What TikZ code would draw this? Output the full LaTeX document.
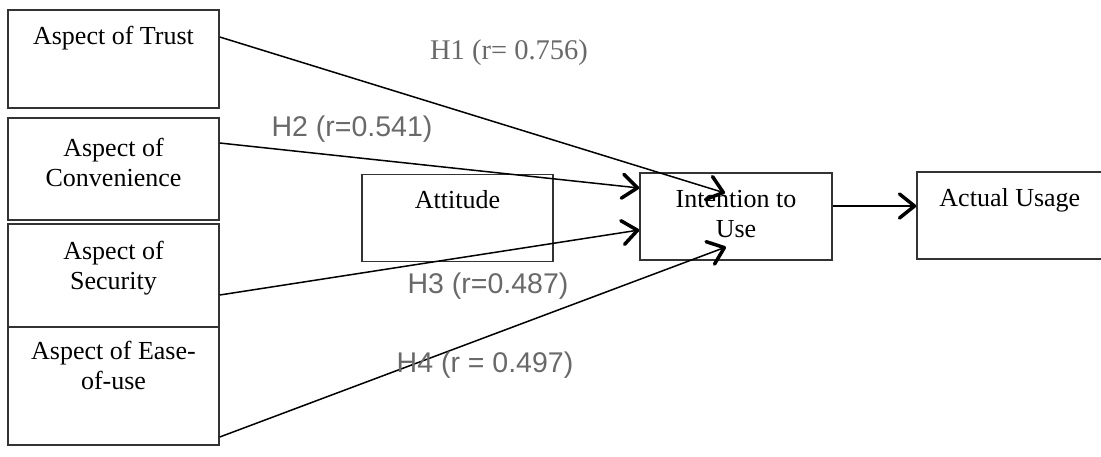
\documentclass[tikz,border=0pt]{standalone}
\usepackage{fontspec}
\setmainfont{Liberation Serif}
\newfontfamily\labelsans{Liberation Sans}
\usetikzlibrary{positioning, calc, arrows.meta}
\definecolor{labelgray}{RGB}{105,105,105}
\tikzset{
	box/.style={draw=black!80, line width=1.5pt, inner sep=0pt}
}
\tikzset{
	boxtext/.style={font=\fontsize{26}{30}\selectfont, align=center, inner sep=0pt}
}
\tikzset{
	graylabel/.style={font=\fontsize{28.5}{32}\selectfont\color{labelgray}, anchor=base},
	graysanslabel/.style={font=\fontsize{28.5}{32}\selectfont\labelsans\color{labelgray}, anchor=base}
}
\tikzset{
	link/.style={line width=1.5pt, -{Straight Barb[length=15pt, width=24pt, line width=3.5pt 0, round]}}
}
\begin{document}
\begin{tikzpicture}[x=1pt, y=-1pt]
      \path[use as bounding box, clip] (0,0) rectangle (1101,456);

      % the four aspects, stacked on the left
      \node[box, minimum width=211pt, minimum height=98pt] (trust) at (113.5,59) {};
      \node[box, minimum width=211pt, minimum height=102pt] (conv) at (113.5,169) {};
      \node[box, minimum width=211pt, minimum height=103pt] (secur) at (113.5,275.5) {};
      \node[box, minimum width=211pt, minimum height=118pt] (ease) at (113.5,386) {};
      \node[boxtext, below=17pt of trust.north] {Aspect of Trust};
      \node[boxtext, below=21pt of conv.north] {Aspect of\\Convenience};
      \node[boxtext, below=18pt of secur.north] {Aspect of\\Security};
      \node[boxtext, below=15pt of ease.north] {Aspect of Ease-\\of-use};

      % middle and right boxes
      \node[box, minimum width=191pt, minimum height=87pt] (attit) at (457.5,218) {};
      \node[box, minimum width=192pt, minimum height=87pt] (intent) at (736,216.5) {};
      \node[box, minimum width=203pt, minimum height=87pt] (usage) at (1018.5,215.5) {};
      \node[boxtext, below=17pt of attit.north] {Attitude};
      \node[boxtext, below=18pt of intent.north] {Intention to\\Use};
      \node[boxtext, below right=17pt and 23pt of usage.north west] {Actual Usage};

      % hypotheses
      \draw[link] ($(trust.east)+(0,-22)$) -- ($(intent.center)+(-11,-23.5)$);
      \draw[link] ($(conv.east)+(0,-26)$) -- ($(intent.west)+(0,-28.5)$);
      \draw[link] ($(secur.east)+(0,19.5)$) -- ($(intent.west)+(0,13.5)$);
      \draw[link] ($(ease.east)+(0,51)$) -- ($(intent.center)+(-10,30.5)$);
      \draw[link] ($(intent.east)+(0,-10.5)$) -- ($(usage.west)+(0,-9.5)$);

      \node[graylabel] (h1) at (509,59) {H1 (r= 0.756)};
      \node[graysanslabel] (h2) at (352,136) {H2 (r=0.541)};
      \node[graysanslabel] (h3) at (488,293) {H3 (r=0.487)};
      \node[graysanslabel] (h4) at (485,372) {H4 (r = 0.497)};
    \end{tikzpicture}
\end{document}
